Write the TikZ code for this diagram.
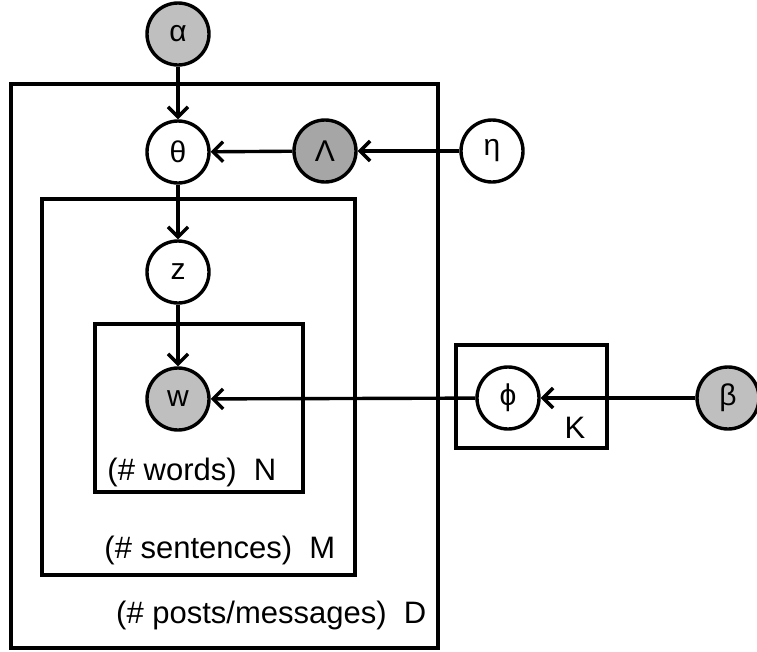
\documentclass[tikz,border=0pt]{standalone}
\usepackage{fontspec}
\setmainfont{Liberation Sans}
\usetikzlibrary{arrows.meta}
\definecolor{gA}{HTML}{BFBFBF}
\definecolor{gB}{HTML}{A6A6A6}
\begin{document}
\begin{tikzpicture}[x=1pt,y=-1pt, line width=3.4pt,
 var/.style={circle, draw, line width=3.4pt, minimum size=62pt, inner sep=0pt, font=\fontsize{30}{32}\selectfont},
 obs/.style={var, fill=gA},
 obsdark/.style={var, fill=gB},
 plate/.style={draw, line width=3.2pt},
 lbl/.style={anchor=base east, inner sep=0pt, font=\fontsize{31}{34}\selectfont},
 arr/.style={line width=3.4pt, -{Straight Barb[length=10pt,width=20pt,line width=3.4pt]}}]
\useasboundingbox (0,0) rectangle (757,651);
% plates
\draw[plate] (11,84) rectangle (438,648);
\draw[plate] (42,199) rectangle (355,575);
\draw[plate] (95,324) rectangle (303,492);
\draw[plate] (456,345) rectangle (607,448);
% nodes
\node[obs] (alpha) at (178,34) {α};
\node[var, fill=white] (theta) at (178,152) {θ};
\node[obsdark] (lam) at (325,151) {Λ};
\node[var, fill=white] (eta) at (492,151) {η};
\node[var, fill=white] (z) at (178,272) {z};
\node[obs] (w) at (178,399) {w};
\node[var, fill=white] (phi) at (508,398) {ϕ};
\node[obs] (beta) at (728,398) {β};
% labels
\node[lbl] (lN) at (278,480) {(\# words)\ \ N};
\node[lbl] (lM) at (337,558) {(\# sentences)\ \ M};
\node[lbl] (lD) at (428,623) {(\# posts/messages)\ \ D};
\node[lbl] (lK) at (587,438) {K};
% edges
\draw[arr] (alpha) -- (theta);
\draw[arr] (lam) -- (theta);
\draw[arr] (eta) -- (lam);
\draw[arr] (theta) -- (z);
\draw[arr] (z) -- (w);
\draw[arr] (phi) -- (w);
\draw[arr] (beta) -- (phi);
\end{tikzpicture}
\end{document}
